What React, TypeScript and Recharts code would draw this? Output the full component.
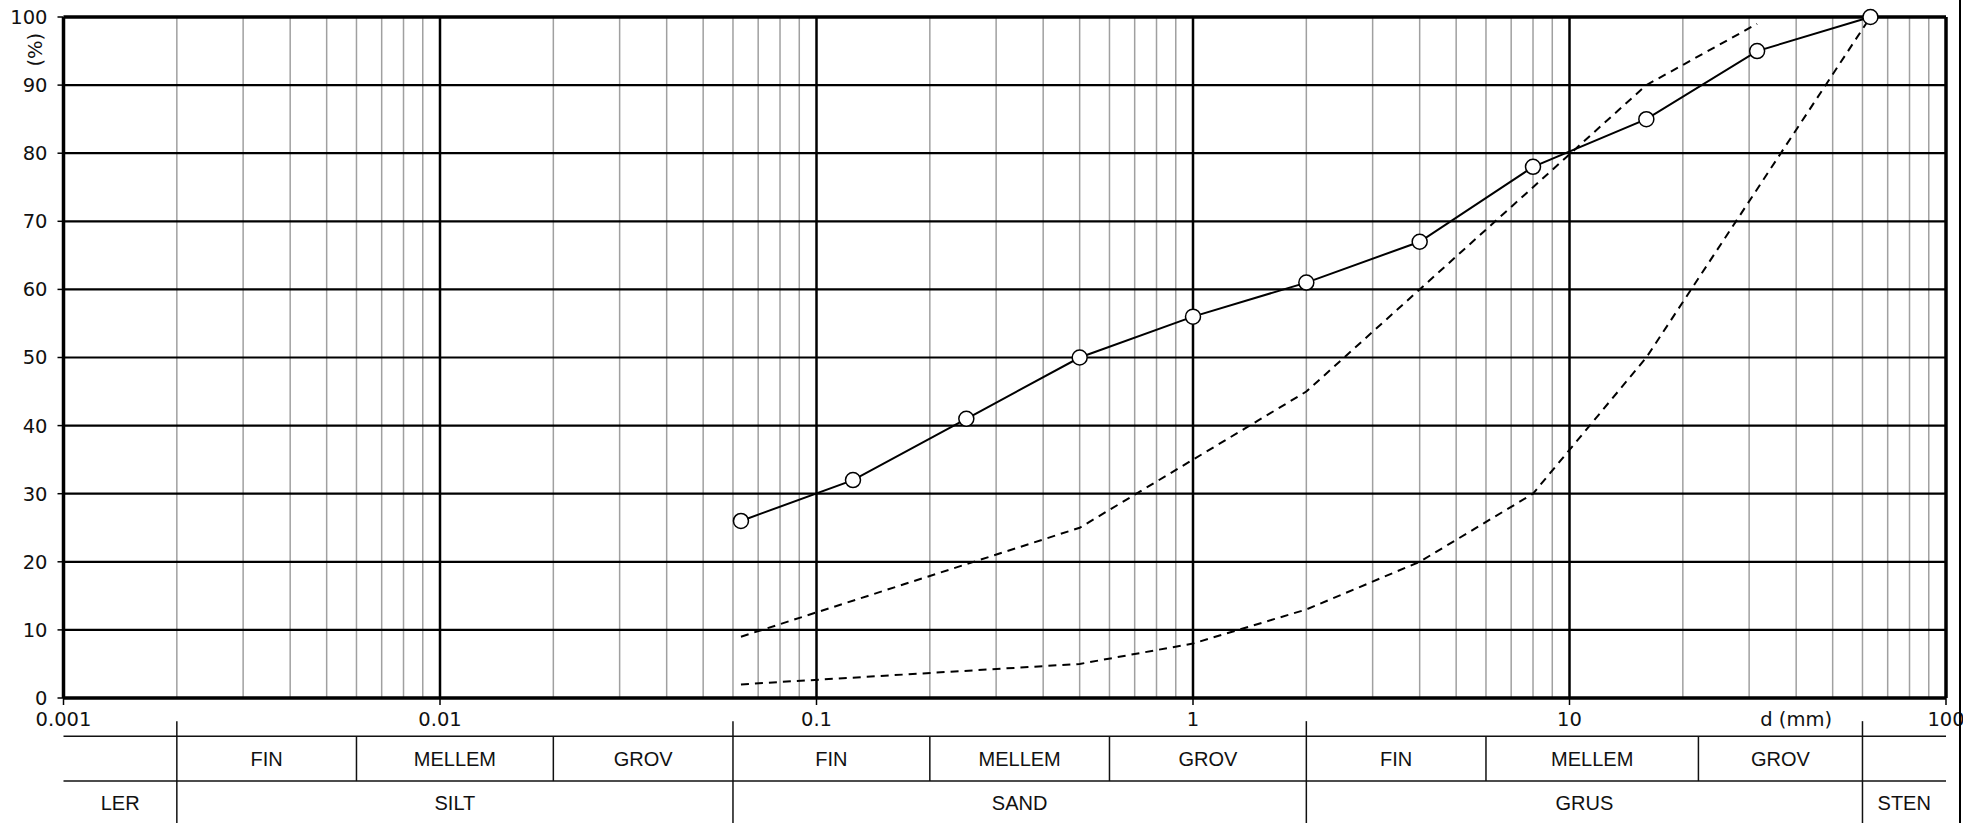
import { LineChart, Line, XAxis, YAxis, ReferenceLine, ReferenceArea, ReferenceDot } from 'recharts';

// grain size (mm) and % passing for the sample
const SIZES = [0.063, 0.125, 0.25, 0.5, 1, 2, 4, 8, 16, 31.5, 63];
const PASSING = [26, 32, 41, 50, 56, 61, 67, 78, 85, 95, 100];

// grading envelope (dashed)
const UPPER_SIZES = [0.063, 0.5, 2, 4, 16, 31.5];
const UPPER = [9, 25, 45, 60, 90, 99];
const LOWER_SIZES = [0.063, 0.5, 1, 2, 4, 8, 16, 63];
const LOWER = [2, 5, 8, 13, 20, 30, 50, 100];

const X_TICKS = [0.001, 0.01, 0.1, 1, 10, 100];
const X_TICK_LABELS = ['0.001', '0.01', '0.1', '1', '10', '100'];
const Y_TICKS = [0, 10, 20, 30, 40, 50, 60, 70, 80, 90, 100];
const MINOR_STEPS = [2, 3, 4, 5, 6, 7, 8, 9];

// classification table under the chart
const SUB_BOUNDS = [0.002, 0.006, 0.02, 0.06, 0.2, 0.6, 2, 6, 22, 60];
const MAIN_BOUNDS = [0.002, 0.06, 2, 60];
const SUB_LABELS = ['', 'FIN', 'MELLEM', 'GROV', 'FIN', 'MELLEM', 'GROV', 'FIN', 'MELLEM', 'GROV', ''];
const MAIN_LABELS = ['LER', 'SILT', 'SAND', 'GRUS', 'STEN'];

const sample = SIZES.map((d, i) => ({ d, p: PASSING[i] }));
const upper = UPPER_SIZES.map((d, i) => ({ d, p: UPPER[i] }));
const lower = LOWER_SIZES.map((d, i) => ({ d, p: LOWER[i] }));

const minorLines = X_TICKS.slice(0, -1).flatMap((dec) => MINOR_STEPS.map((m) => +(dec * m).toPrecision(3)));

const TICK_FONT = { fontFamily: 'DejaVu Sans', fontSize: 19.5, fill: '#111' };
const TABLE_FONT = { fontFamily: 'Liberation Sans', fontSize: 20, fill: '#111' };

// table rows in y-data units (below 0)
const TOP_TICK = -3.4;
const ROW1_TOP = -5.6;
const ROW1_BOT = -12.2;
const ROW2_BOT = -18.6;

const subEdges = [0.001, ...SUB_BOUNDS, 100];
const mainEdges = [0.001, ...MAIN_BOUNDS, 100];

function XTick(props: any) {
  const { x, y, payload } = props;
  const i = X_TICKS.indexOf(payload.value);
  return (
    <text x={x} y={y} dy="0.71em" textAnchor="middle" {...TICK_FONT}>
      {i >= 0 ? X_TICK_LABELS[i] : String(payload.value)}
    </text>
  );
}

export default function App() {
  return (
    <div style={{ position: 'absolute', left: 0, top: 0, width: 1963, height: 823, background: '#fff' }}>
      <LineChart width={1963} height={823} margin={{ top: 17, right: 17, bottom: 95, left: 0 }}>
        <XAxis
          type="number"
          dataKey="d"
          scale="log"
          domain={[0.001, 100]}
          ticks={X_TICKS}
          interval={0}
          allowDataOverflow
          height={30}
          axisLine={{ stroke: '#000', strokeWidth: 3.5 }}
          tickLine={{ stroke: '#000', strokeWidth: 1.5 }}
          tickSize={7}
          tickMargin={7}
          tick={<XTick />}
        />
        <YAxis
          type="number"
          dataKey="p"
          domain={[0, 100]}
          ticks={Y_TICKS}
          interval={0}
          width={63.5}
          axisLine={{ stroke: '#000', strokeWidth: 3.5 }}
          tickLine={{ stroke: '#000', strokeWidth: 1.5 }}
          tickSize={6}
          tickMargin={10}
          tick={TICK_FONT}
        />

        {minorLines.map((v) => (
          <ReferenceLine key={`m${v}`} x={v} stroke="#a0a0a0" strokeWidth={1.5} />
        ))}
        {X_TICKS.slice(1, -1).map((v) => (
          <ReferenceLine key={`M${v}`} x={v} stroke="#000" strokeWidth={2.5} />
        ))}
        {Y_TICKS.slice(1, -1).map((v) => (
          <ReferenceLine key={`y${v}`} y={v} stroke="#000" strokeWidth={2.2} />
        ))}
        <ReferenceLine y={100} stroke="#000" strokeWidth={3.5} />
        <ReferenceLine x={100} stroke="#000" strokeWidth={3.5} />

        {/* table lines */}
        <ReferenceLine y={ROW1_TOP} stroke="#111" strokeWidth={1.5} ifOverflow="visible" />
        <ReferenceLine y={ROW1_BOT} stroke="#111" strokeWidth={1.5} ifOverflow="visible" />
        {SUB_BOUNDS.map((b) => (
          <ReferenceLine
            key={`sb${b}`}
            segment={
              MAIN_BOUNDS.includes(b)
                ? [{ x: b, y: TOP_TICK }, { x: b, y: ROW2_BOT - 2 }]
                : [{ x: b, y: ROW1_TOP }, { x: b, y: ROW1_BOT }]
            }
            stroke="#111"
            strokeWidth={1.5}
            ifOverflow="visible"
          />
        ))}
        {SUB_LABELS.map((t, i) => (
          <ReferenceArea
            key={`sl${i}`}
            x1={subEdges[i]}
            x2={subEdges[i + 1]}
            y1={ROW1_BOT}
            y2={ROW1_TOP}
            fill="none"
            stroke="none"
            ifOverflow="visible"
            label={{ value: t, position: 'center', ...TABLE_FONT }}
          />
        ))}
        {MAIN_LABELS.map((t, i) => (
          <ReferenceArea
            key={`ml${i}`}
            x1={mainEdges[i]}
            x2={mainEdges[i + 1]}
            y1={ROW2_BOT}
            y2={ROW1_BOT}
            fill="none"
            stroke="none"
            ifOverflow="visible"
            label={{ value: t, position: 'center', ...TABLE_FONT }}
          />
        ))}

        <ReferenceDot
          x={40}
          y={-3.1}
          r={0}
          fill="none"
          stroke="none"
          ifOverflow="visible"
          label={{ value: 'd (mm)', position: 'center', ...TICK_FONT }}
        />
        <ReferenceDot
          x={0.001}
          y={95.2}
          r={0}
          fill="none"
          stroke="none"
          ifOverflow="visible"
          label={(props: any) => {
            const vb = props.viewBox || {};
            const cx = (vb.x ?? 0) - 28;
            const cy = vb.y ?? 0;
            return (
              <text
                x={cx}
                y={cy}
                transform={`rotate(-90 ${cx} ${cy})`}
                textAnchor="middle"
                dominantBaseline="central"
                {...TICK_FONT}
              >
                (%)
              </text>
            );
          }}
        />

        <Line
          data={upper}
          dataKey="p"
          stroke="#000"
          strokeWidth={2}
          strokeDasharray="8 6"
          dot={false}
          isAnimationActive={false}
        />
        <Line
          data={lower}
          dataKey="p"
          stroke="#000"
          strokeWidth={2}
          strokeDasharray="8 6"
          dot={false}
          isAnimationActive={false}
        />
        <Line
          data={sample}
          dataKey="p"
          stroke="#000"
          strokeWidth={2}
          dot={{ r: 7.5, fill: '#fff', stroke: '#000', strokeWidth: 1.5 }}
          isAnimationActive={false}
        />
      </LineChart>
      <div style={{ position: 'absolute', left: 1959, top: 0, width: 2, height: 823, background: '#000' }} />
    </div>
  );
}
